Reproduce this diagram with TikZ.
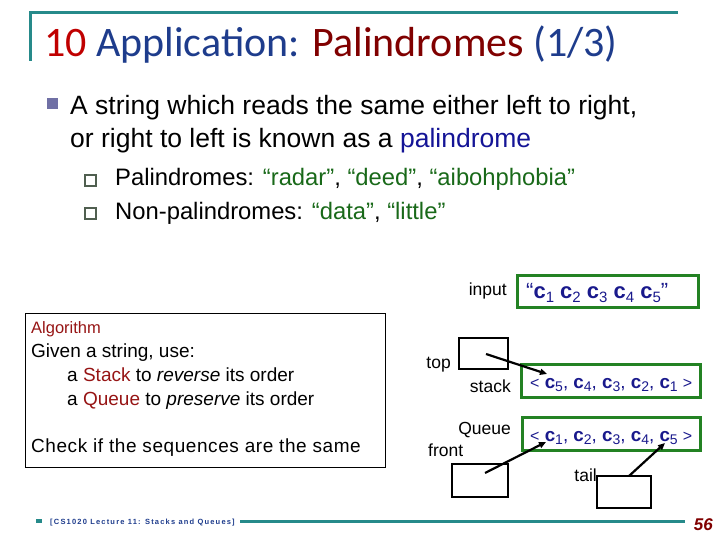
\documentclass[tikz,border=0pt]{standalone}
\usepackage{fontspec}
\setmainfont{Liberation Sans}
\newfontfamily\titlefont{Carlito}
\usetikzlibrary{arrows.meta}
\definecolor{teal1}{RGB}{38,138,138}
\definecolor{tblue}{RGB}{30,60,140}
\definecolor{tred}{RGB}{192,0,0}
\definecolor{dred}{RGB}{128,0,0}
\definecolor{pblue}{RGB}{20,20,150}
\definecolor{qgreen}{RGB}{25,105,25}
\definecolor{bgreen}{RGB}{35,130,35}
\definecolor{cblue}{RGB}{25,25,140}
\definecolor{bulcol}{RGB}{112,112,165}
\definecolor{subbul}{RGB}{80,95,80}
\definecolor{algred}{RGB}{150,20,20}
\newcommand{\fsz}[1]{\fontsize{#1}{#1}\selectfont}
\newcommand{\cc}[1]{{\bfseries c}\raisebox{-0.35ex}{\fsz{15}#1}}
\newcommand{\cs}[1]{{\bfseries c}\raisebox{-0.35ex}{\fsz{14}#1}}
\begin{document}
\begin{tikzpicture}[x=1pt,y=-1pt,
  txt/.style={inner sep=0pt,anchor=base west},
  txte/.style={inner sep=0pt,anchor=base east},
  greenbox/.style={draw=bgreen,line width=3pt},
  blackbox/.style={draw=black,line width=2pt},
  ptr/.style={line width=2.2pt,-{Triangle[length=7pt,width=6pt]}},
  lbl/.style={txte,font=\fsz{17.5}}]
\useasboundingbox (0,0) rectangle (720,540);
% title frame
\draw[teal1,line width=3pt] (30,61) -- (30,13) -- (678,13);
\node[txt,font=\titlefont\fsz{42}] (title) at (44,57) {\textcolor{tred}{10} \textcolor{tblue}{Application:} \textcolor{dred}{Palindromes} \textcolor{tblue}{(1/3)}};
% bullets
\fill[bulcol] (47,98) rectangle (58,109);
\node[txt,font=\fsz{26.5}] (l1) at (70,115) {A string which reads the same either left to right,};
\node[txt,font=\fsz{26.5}] (l2) at (70,148) {or right to left is known as a \textcolor{pblue}{palindrome}};
\draw[subbul,line width=1.2pt] (85,175) rectangle (96,186);
\draw[subbul,line width=1.2pt] (85,208) rectangle (96,219);
\node[txt,font=\fsz{23.8}] (s1) at (115,186) {Palindromes: \textcolor{qgreen}{“radar”}, \textcolor{qgreen}{“deed”}, \textcolor{qgreen}{“aibohphobia”}};
\node[txt,font=\fsz{23.8}] (s2) at (115,219) {Non-palindromes: \textcolor{qgreen}{“data”}, \textcolor{qgreen}{“little”}};
% algorithm box
\draw[black,line width=0.9pt] (25,313) rectangle (385,467);
\node[txt,font=\fsz{16.5},text=algred] (alg) at (31,333) {Algorithm};
\node[txt,font=\fsz{19}] (a1) at (31,357) {Given a string, use:};
\node[txt,font=\fsz{19}] (a2) at (67,381) {a \textcolor{algred}{Stack} to \textit{reverse} its order};
\node[txt,font=\fsz{19}] (a3) at (67,405) {a \textcolor{algred}{Queue} to \textit{preserve} its order};
\node[txt,font=\fsz{19}\addfontfeature{LetterSpace=3}] (a4) at (31,452) {Check if the sequences are the same};
% input
\node[lbl] (inlbl) at (507,295) {input};
\draw[greenbox] (517,275) rectangle (698,307);
\node[txt,font=\fsz{22},text=cblue] (inp) at (526,298) {“\cc1\ \cc2\ \cc3\ \cc4\ \cc5”};
% stack
\draw[blackbox] (459,338) rectangle (508,369);
\coordinate (topc) at (486,354);
\node[lbl] (toplbl) at (451,368) {top};
\node[lbl] (stlbl) at (511,392) {stack};
\draw[greenbox] (521,364) rectangle (700,397);
\node[txt,font=\fsz{18.8},text=cblue] (stk) at (530,388) {{\fsz{16}<} \cs5, \cs4, \cs3, \cs2, \cs1 {\fsz{16}>}};
\coordinate (c5s) at (547,374);
\draw[ptr] (topc) -- (c5s);
% queue
\node[lbl] (qlbl) at (511,434) {Queue};
\node[txt,font=\fsz{17.5}] (frlbl) at (428,456) {front};
\draw[greenbox] (522,417) rectangle (700,450);
\node[txt,font=\fsz{18.8},text=cblue] (que) at (530,441) {{\fsz{16}<} \cs1, \cs2, \cs3, \cs4, \cs5 {\fsz{16}>}};
\draw[blackbox] (452,464) rectangle (508,497);
\coordinate (frc) at (485,473);
\coordinate (c1q) at (546,442);
\draw[ptr] (frc) -- (c1q);
\node[lbl] (tllbl) at (597,481) {tail};
\draw[blackbox] (597,476) rectangle (651,508);
\coordinate (tlc) at (629,476);
\coordinate (c5q) at (665,443);
\draw[ptr] (tlc) -- (c5q);
% footer
\fill[teal1] (36,519) rectangle (42,523);
\node[txt,font=\fsz{7.5}\bfseries\addfontfeature{LetterSpace=16},text=tblue] (foot) at (50,524) {[CS1020 Lecture 11: Stacks and Queues]};
\draw[teal1,line width=3pt] (240,521) -- (685,521);
\node[txte,font=\fsz{17}\bfseries\itshape,text=dred] (pg) at (713,530) {56};
\end{tikzpicture}
\end{document}
